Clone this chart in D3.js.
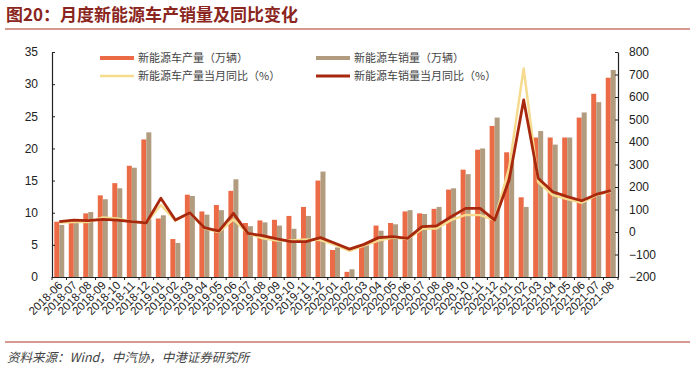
<!DOCTYPE html>
<html>
<head>
<meta charset="utf-8">
<script src="https://cdn.jsdelivr.net/npm/d3@7"></script>
<style>
  body { margin: 0; background: #fff; }
  svg text { font-family: "Liberation Sans", Arial, sans-serif; }
  .cjk { font-family: "Noto Sans CJK SC", sans-serif; }
</style>
</head>
<body>
<svg id="chart" width="700" height="372"></svg>
<script>
// monthly NEV production / sales (万辆) and YoY (%)
var months = ['2018-06','2018-07','2018-08','2018-09','2018-10','2018-11','2018-12',
  '2019-01','2019-02','2019-03','2019-04','2019-05','2019-06','2019-07','2019-08','2019-09',
  '2019-10','2019-11','2019-12','2020-01','2020-02','2020-03','2020-04','2020-05','2020-06',
  '2020-07','2020-08','2020-09','2020-10','2020-11','2020-12','2021-01','2021-02','2021-03',
  '2021-04','2021-05','2021-06','2021-07','2021-08'];

var production = [8.6, 8.7, 9.9, 12.7, 14.6, 17.3, 21.4, 9.1, 5.9, 12.8, 10.2, 11.2, 13.4,
  8.4, 8.8, 8.9, 9.5, 10.9, 15.0, 4.2, 0.8, 4.8, 8.0, 8.4, 10.2, 9.9, 10.6, 13.6, 16.7,
  19.8, 23.5, 19.4, 12.4, 21.7, 21.7, 21.7, 24.8, 28.5, 31.0];

var sales = [8.1, 8.4, 10.1, 12.1, 13.8, 17.0, 22.5, 9.6, 5.3, 12.6, 9.7, 10.4, 15.2,
  7.9, 8.5, 8.0, 7.5, 9.5, 16.4, 4.6, 1.2, 5.0, 7.2, 8.2, 10.4, 9.8, 10.9, 13.8, 16.0,
  20.0, 24.8, 17.9, 10.9, 22.7, 20.6, 21.7, 25.6, 27.2, 32.2];

var production_yoy = [42, 44, 44, 65, 60, 46, 41, 120, 50, 86, 17, 0, 56, -6, -28, -38,
  -38, -33, -36, -57, -84, -60, -38, -25, -31, 14, 16, 53, 76, 75, 53, 285, 727, 222,
  164, 147, 130, 164, 180];

var sales_yoy = [46, 53, 51, 56, 53, 46, 41, 150, 53, 86, 19, 4, 83, -6, -16, -31, -43,
  -43, -25, -50, -76, -55, -25, -21, -28, 24, 27, 68, 105, 105, 53, 231, 587, 239, 179,
  157, 139, 167, 184];

var left_ticks  = [0, 5, 10, 15, 20, 25, 30, 35];
var right_ticks = [-200, -100, 0, 100, 200, 300, 400, 500, 600, 700, 800];

var series_names = ['新能源车产量（万辆）', '新能源车销量（万辆）',
                    '新能源车产量当月同比（%）', '新能源车销量当月同比（%）'];
var colors = ['#EA6B46', '#B29C80', '#F6DB8E', '#A8280E'];

var svg = d3.select('#chart');

var x = d3.scaleBand()
  .domain(months)
  .range([52, 618]);

var xs = d3.scaleBand()
  .domain(['p', 's'])
  .range([0, x.bandwidth()])
  .paddingInner(0)
  .paddingOuter(0.45);

var yl = d3.scaleLinear()
  .domain([0, 35])
  .range([277, 52]);

var yr = d3.scaleLinear()
  .domain([-200, 800])
  .range([277, 52]);

// title + rules
svg.append('text')
  .attr('class', 'cjk')
  .attr('x', 6)
  .attr('y', 21)
  .style('font-size', '17px')
  .style('font-weight', 'bold')
  .style('fill', '#8A2520')
  .text('图20：月度新能源车产销量及同比变化');

svg.append('line')
  .attr('x1', 5).attr('x2', 690)
  .attr('y1', 29).attr('y2', 29)
  .style('stroke', '#C9786B')
  .style('stroke-width', 1.3);

svg.append('line')
  .attr('x1', 5).attr('x2', 690)
  .attr('y1', 342).attr('y2', 342)
  .style('stroke', '#C9786B')
  .style('stroke-width', 1.3);

svg.append('text')
  .attr('class', 'cjk')
  .attr('x', 7)
  .attr('y', 362)
  .style('font-size', '12.5px')
  .style('font-style', 'italic')
  .style('fill', '#444')
  .text('资料来源：Wind，中汽协，中港证券研究所');

// bars
var gph = svg.append('g');

var bar_data = months.map((m, i) => [
  { m: m, k: 'p', v: production[i], c: colors[0] },
  { m: m, k: 's', v: sales[i], c: colors[1] }
]).flat();

gph.selectAll('rect.bar')
  .data(bar_data).enter()
  .append('rect')
  .attr('class', 'bar')
  .attr('x', (d) => x(d.m) + xs(d.k))
  .attr('y', (d) => yl(d.v))
  .attr('width', xs.bandwidth())
  .attr('height', (d) => yl(0) - yl(d.v))
  .style('fill', (d) => d.c);

// lines
var line = d3.line()
  .x((d, i) => x(months[i]) + x.bandwidth() / 2)
  .y((d) => yr(d));

gph.append('path')
  .attr('d', line(production_yoy))
  .style('fill', 'none')
  .style('stroke', colors[2])
  .style('stroke-width', 2.5)
  .style('stroke-linejoin', 'round');

gph.append('path')
  .attr('d', line(sales_yoy))
  .style('fill', 'none')
  .style('stroke', colors[3])
  .style('stroke-width', 2.8)
  .style('stroke-linejoin', 'round');

// axes
var ax_l = svg.append('g')
  .attr('transform', 'translate(52,0)')
  .call(d3.axisLeft(yl).tickValues(left_ticks).tickSize(-3).tickSizeOuter(0).tickPadding(14));

var ax_r = svg.append('g')
  .attr('transform', 'translate(618,0)')
  .call(d3.axisRight(yr).tickValues(right_ticks).tickSize(-3).tickSizeOuter(0).tickPadding(11));

var ax_b = svg.append('g')
  .attr('transform', 'translate(0,277)')
  .call(d3.axisBottom(x).tickSize(0).tickSizeOuter(0).tickPadding(0));

ax_b.selectAll('.tick text')
  .attr('text-anchor', 'end')
  .attr('dy', 0)
  .attr('transform', 'translate(4,9) rotate(-45)');

// boundary ticks under the x axis
ax_b.selectAll('line.bnd')
  .data(months.concat(['end'])).enter()
  .append('line')
  .attr('class', 'bnd')
  .attr('x1', (d) => d === 'end' ? x.range()[1] : x(d))
  .attr('x2', (d) => d === 'end' ? x.range()[1] : x(d))
  .attr('y1', 0)
  .attr('y2', 3)
  .style('stroke', '#222');

[ax_l, ax_r, ax_b].forEach((a) => {
  a.selectAll('path.domain').style('stroke', '#222').style('stroke-width', 1.2);
  a.selectAll('.tick line').style('stroke', '#222');
  a.selectAll('text')
    .style('font-family', '"Liberation Sans", Arial, sans-serif')
    .style('fill', '#222');
});
ax_l.selectAll('text').style('font-size', '12px');
ax_r.selectAll('text').style('font-size', '12px');
ax_b.selectAll('text').style('font-size', '11.5px');

// legend
var legend = [
  { name: series_names[0], c: colors[0], w: 4,   x: 100, y: 58 },
  { name: series_names[1], c: colors[1], w: 4,   x: 316, y: 58 },
  { name: series_names[2], c: colors[2], w: 2.5, x: 100, y: 76 },
  { name: series_names[3], c: colors[3], w: 3,   x: 316, y: 76 }
];

var lg = svg.append('g').attr('class', 'legend');

lg.selectAll('line')
  .data(legend).enter()
  .append('line')
  .attr('x1', (d) => d.x)
  .attr('x2', (d) => d.x + 34)
  .attr('y1', (d) => d.y)
  .attr('y2', (d) => d.y)
  .style('stroke', (d) => d.c)
  .style('stroke-width', (d) => d.w);

lg.selectAll('text')
  .data(legend).enter()
  .append('text')
  .attr('class', 'cjk')
  .attr('x', (d) => d.x + 38)
  .attr('y', (d) => d.y + 4)
  .style('font-size', '11px')
  .style('fill', '#444')
  .text((d) => d.name);
</script>
</body>
</html>
